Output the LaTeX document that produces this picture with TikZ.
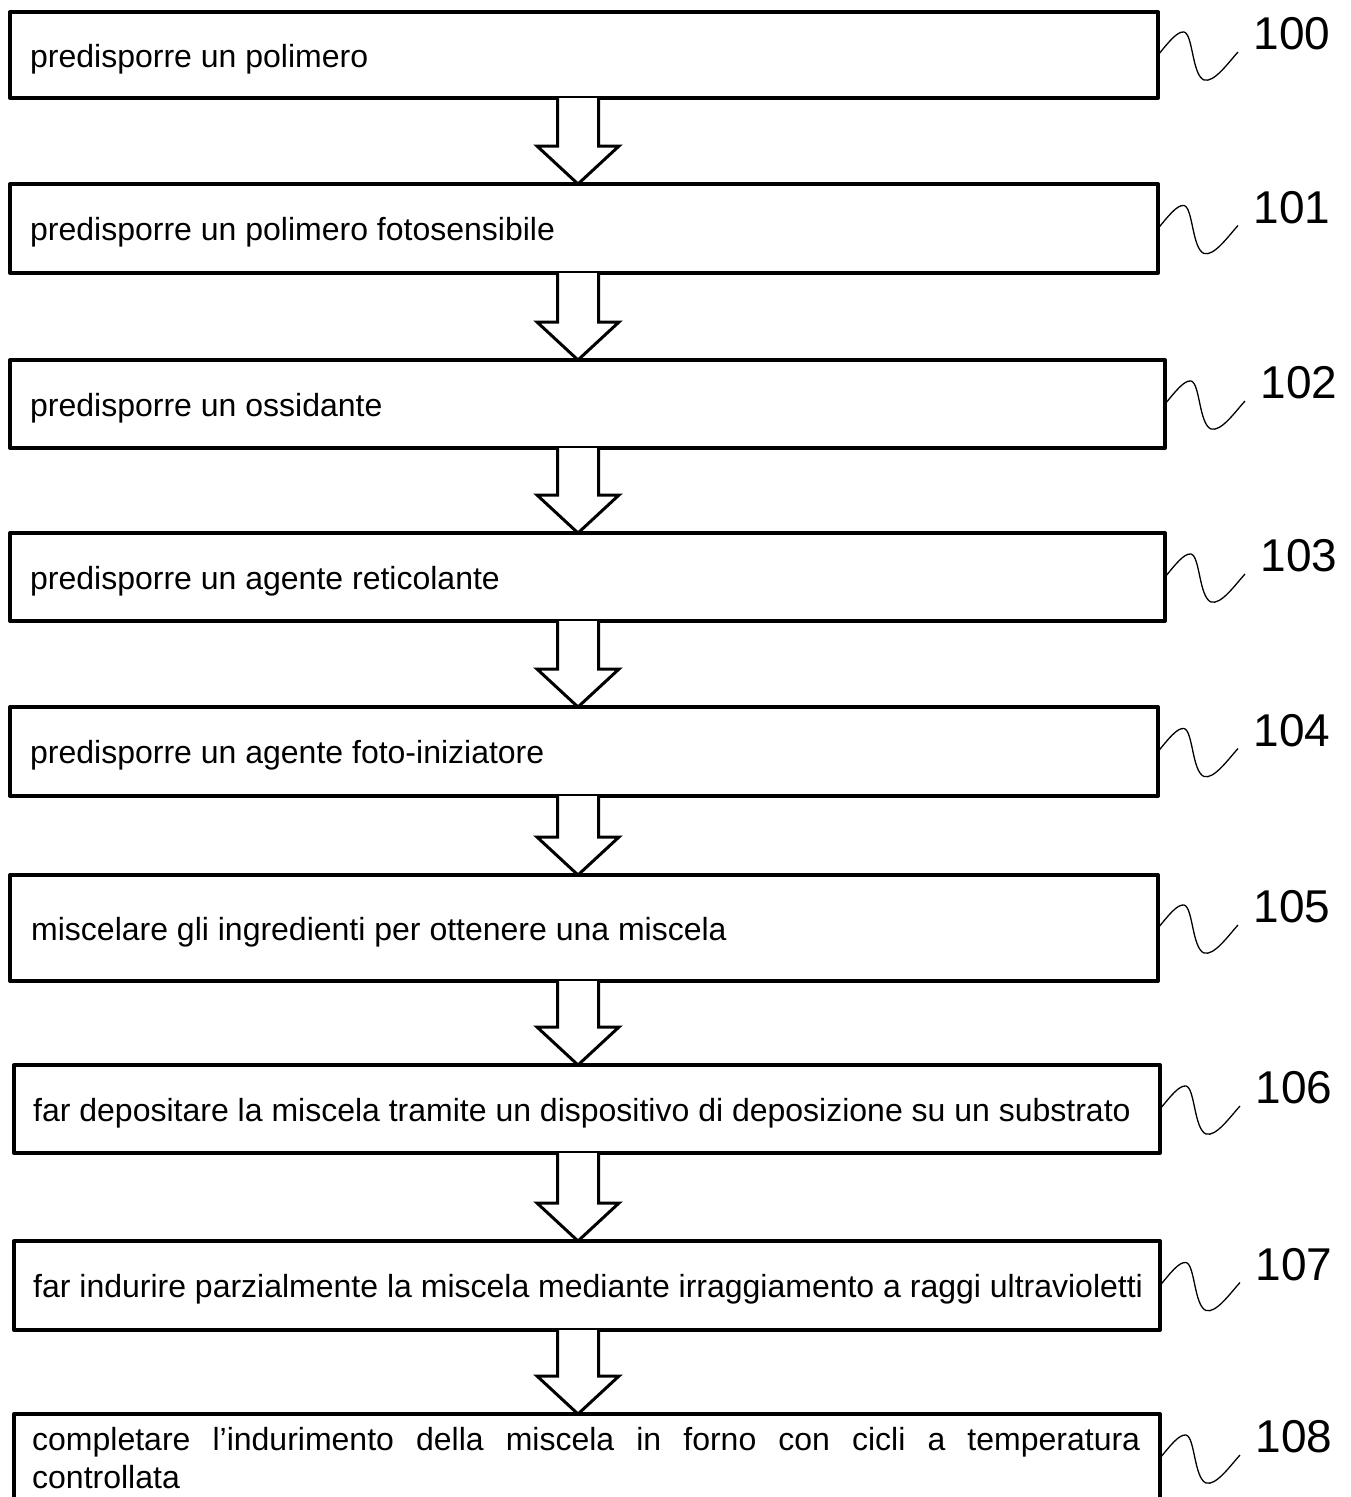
\documentclass[tikz,border=0pt]{standalone}
\usepackage{fontspec}
\setmainfont{Liberation Sans}
\usetikzlibrary{calc}
\tikzset{
  stepbox/.style={draw, line width=4pt, rectangle, outer sep=0pt, inner sep=0pt, anchor=north west, line join=round},
  steptext/.style={anchor=west, inner sep=0pt, font=\fontsize{32}{38}\selectfont, text height=24pt, text depth=0pt, align=left},
  reflabel/.style={inner sep=0pt, font=\fontsize{46}{50}\selectfont},
  arr/.style={draw, line width=3pt, fill=white, line join=miter},
  squig/.pic={\draw[line width=1.3pt] (0,0) .. controls (10,-12) and (19,-24) .. (26,-23) .. controls (35,-21) and (34,20) .. (46,25) .. controls (56,28) and (70,8) .. (80,-3);}
}
\newcommand{\flowarrow}[2]{%
  \draw[arr] let \p1=(#1.south -| ax), \p2=(#2.north -| ax) in
   (\x1-20.5pt,\y1) -- (\x1-20.5pt,\y2+38pt) -- (\x1-41pt,\y2+38pt) -- (\x1,\y2)
   -- (\x1+41pt,\y2+38pt) -- (\x1+20.5pt,\y2+38pt) -- (\x1+20.5pt,\y1);}
\begin{document}
\begin{tikzpicture}[x=1pt,y=-1pt]
\useasboundingbox (0,0) rectangle (1351,1497);
\clip (0,0) rectangle (1351,1497);
\fill[white] (0,0) rectangle (1351,1497);
\coordinate (ax) at (578,0);
% boxes
\node[stepbox, minimum width=1148pt, minimum height=86pt] (b100) at (10,12) {};
\node[stepbox, minimum width=1148pt, minimum height=89pt] (b101) at (10,184) {};
\node[stepbox, minimum width=1155pt, minimum height=88pt] (b102) at (10,360) {};
\node[stepbox, minimum width=1155pt, minimum height=88pt] (b103) at (10,533) {};
\node[stepbox, minimum width=1148pt, minimum height=89pt] (b104) at (10,707) {};
\node[stepbox, minimum width=1148pt, minimum height=106pt] (b105) at (10,875) {};
\node[stepbox, minimum width=1146pt, minimum height=88pt] (b106) at (14,1065) {};
\node[stepbox, minimum width=1146pt, minimum height=89pt] (b107) at (14,1241) {};
\node[stepbox, minimum width=1146pt, minimum height=88pt] (b108) at (14,1414) {};
% texts
\node[steptext] (t100) at ([xshift=20pt]b100.west) {predisporre un polimero};
\node[steptext] (t101) at ([xshift=20pt]b101.west) {predisporre un polimero fotosensibile};
\node[steptext] (t102) at ([xshift=20pt]b102.west) {predisporre un ossidante};
\node[steptext] (t103) at ([xshift=20pt]b103.west) {predisporre un agente reticolante};
\node[steptext] (t104) at ([xshift=20pt]b104.west) {predisporre un agente foto-iniziatore};
\node[steptext] (t105) at ([xshift=21pt]b105.west) {miscelare gli ingredienti per ottenere una miscela};
\node[steptext] (t106) at ([xshift=19pt]b106.west) {far depositare la miscela tramite un dispositivo di deposizione su un substrato};
\node[steptext] (t107) at ([xshift=19pt]b107.west) {far indurire parzialmente la miscela mediante irraggiamento a raggi ultravioletti};
\node[inner sep=0pt, font=\fontsize{32}{38}\selectfont, align=left, anchor=north west] (t108) at ([shift={(18pt,-13pt)}]b108.north west)
  {\makebox[1108pt][s]{completare l’indurimento della miscela in forno con cicli a temperatura}\\controllata};
% arrows
\flowarrow{b100}{b101}
\flowarrow{b101}{b102}
\flowarrow{b102}{b103}
\flowarrow{b103}{b104}
\flowarrow{b104}{b105}
\flowarrow{b105}{b106}
\flowarrow{b106}{b107}
\flowarrow{b107}{b108}
% reference numerals with leaders
\foreach \k in {100,101,102,103,104,105,106,107,108}{
  \pic at (b\k.east) {squig};
  \node[reflabel] (l\k) at ([shift={(134pt,21pt)}]b\k.east) {\k};
}
\end{tikzpicture}
\end{document}
